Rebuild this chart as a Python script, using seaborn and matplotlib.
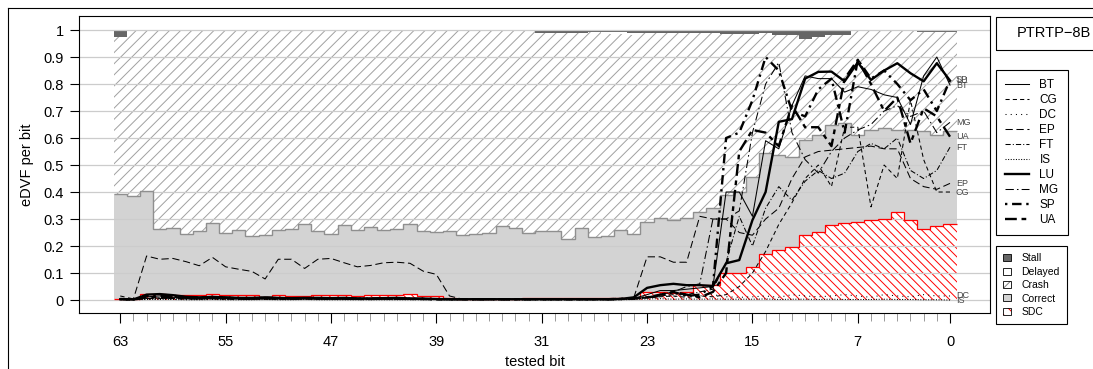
import numpy as np
import pandas as pd
import matplotlib
matplotlib.use("Agg")
import matplotlib.pyplot as plt
from matplotlib.lines import Line2D
from matplotlib.patches import Rectangle
import seaborn as sns

# Bits in der Reihenfolge des Bildes: 63 links ... 0 rechts
bits = list(range(63, -1, -1))
major_bits = [63, 55, 47, 39, 31, 23, 15, 7, 0]
y_ticks = [0, 0.1, 0.2, 0.3, 0.4, 0.5, 0.6, 0.7, 0.8, 0.9, 1]
y_tick_labels = ["0", "0.1", "0.2", "0.3", "0.4", "0.5", "0.6", "0.7", "0.8", "0.9", "1"]

# Anteile je Bit (63 -> 0)
sdc = [
    0.003, 0.003, 0.022, 0.024, 0.020, 0.018, 0.018, 0.022,
    0.018, 0.018, 0.017, 0.013, 0.018, 0.016, 0.016, 0.020,
    0.020, 0.017, 0.016, 0.019, 0.017, 0.020, 0.022, 0.016,
    0.015, 0.006, 0.005, 0.005, 0.005, 0.004, 0.005, 0.006,
    0.006, 0.006, 0.006, 0.006, 0.006, 0.008, 0.008, 0.008,
    0.030, 0.031, 0.025, 0.031, 0.056, 0.056, 0.099, 0.099,
    0.123, 0.170, 0.185, 0.198, 0.241, 0.253, 0.278, 0.284,
    0.290, 0.295, 0.300, 0.326, 0.296, 0.264, 0.276, 0.282]
correct = [
    0.390, 0.382, 0.383, 0.240, 0.246, 0.225, 0.237, 0.263,
    0.230, 0.242, 0.220, 0.228, 0.241, 0.248, 0.267, 0.235,
    0.226, 0.262, 0.243, 0.253, 0.244, 0.243, 0.258, 0.239,
    0.238, 0.251, 0.236, 0.238, 0.242, 0.271, 0.260, 0.243,
    0.251, 0.251, 0.220, 0.259, 0.229, 0.228, 0.251, 0.236,
    0.260, 0.271, 0.271, 0.271, 0.271, 0.284, 0.291, 0.301,
    0.334, 0.373, 0.352, 0.333, 0.352, 0.358, 0.370, 0.370,
    0.321, 0.335, 0.336, 0.304, 0.334, 0.363, 0.337, 0.345]
delayed = [
    0.000, 0.000, 0.000, 0.000, 0.000, 0.000, 0.000, 0.000,
    0.000, 0.000, 0.000, 0.000, 0.000, 0.000, 0.000, 0.000,
    0.000, 0.000, 0.000, 0.000, 0.000, 0.000, 0.000, 0.000,
    0.000, 0.000, 0.000, 0.000, 0.000, 0.000, 0.000, 0.000,
    0.000, 0.000, 0.000, 0.000, 0.000, 0.005, 0.005, 0.005,
    0.000, 0.000, 0.000, 0.000, 0.000, 0.000, 0.000, 0.000,
    0.000, 0.000, 0.000, 0.000, 0.000, 0.000, 0.000, 0.000,
    0.000, 0.000, 0.000, 0.000, 0.000, 0.000, 0.000, 0.000]
stall = [
    0.025, 0.000, 0.000, 0.000, 0.000, 0.000, 0.000, 0.000,
    0.000, 0.000, 0.000, 0.000, 0.000, 0.000, 0.000, 0.000,
    0.000, 0.000, 0.000, 0.000, 0.000, 0.000, 0.000, 0.000,
    0.000, 0.000, 0.000, 0.000, 0.000, 0.000, 0.000, 0.000,
    0.012, 0.012, 0.012, 0.012, 0.008, 0.008, 0.008, 0.012,
    0.012, 0.012, 0.012, 0.012, 0.012, 0.012, 0.015, 0.015,
    0.015, 0.012, 0.020, 0.020, 0.032, 0.025, 0.020, 0.020,
    0.000, 0.000, 0.005, 0.005, 0.000, 0.006, 0.006, 0.006]

# eDVF-Kurven der Benchmarks (63 -> 0)
BT = [
    0.004, 0.002, 0.012, 0.015, 0.010, 0.008, 0.006, 0.008,
    0.006, 0.005, 0.004, 0.006, 0.005, 0.004, 0.006, 0.005,
    0.004, 0.005, 0.004, 0.003, 0.004, 0.005, 0.004, 0.003,
    0.003, 0.002, 0.002, 0.002, 0.003, 0.002, 0.002, 0.003,
    0.003, 0.002, 0.002, 0.003, 0.002, 0.002, 0.003, 0.006,
    0.020, 0.035, 0.035, 0.040, 0.045, 0.050, 0.400, 0.400,
    0.310, 0.590, 0.560, 0.720, 0.830, 0.820, 0.820, 0.770,
    0.790, 0.780, 0.760, 0.750, 0.650, 0.830, 0.900, 0.796]
CG = [
    0.003, 0.002, 0.006, 0.008, 0.006, 0.005, 0.004, 0.006,
    0.005, 0.004, 0.004, 0.005, 0.004, 0.004, 0.005, 0.004,
    0.004, 0.004, 0.003, 0.003, 0.004, 0.004, 0.003, 0.003,
    0.002, 0.002, 0.002, 0.002, 0.002, 0.002, 0.002, 0.002,
    0.002, 0.002, 0.002, 0.002, 0.002, 0.002, 0.003, 0.004,
    0.008, 0.012, 0.015, 0.010, 0.015, 0.012, 0.020, 0.050,
    0.100, 0.180, 0.280, 0.360, 0.450, 0.500, 0.420, 0.640,
    0.640, 0.345, 0.500, 0.450, 0.740, 0.520, 0.400, 0.400]
DC = [
    0.002, 0.001, 0.003, 0.004, 0.003, 0.002, 0.002, 0.003,
    0.002, 0.002, 0.002, 0.003, 0.002, 0.002, 0.003, 0.002,
    0.002, 0.002, 0.002, 0.002, 0.002, 0.002, 0.002, 0.002,
    0.001, 0.001, 0.001, 0.001, 0.001, 0.001, 0.001, 0.001,
    0.001, 0.001, 0.001, 0.001, 0.001, 0.001, 0.002, 0.004,
    0.010, 0.020, 0.012, 0.018, 0.015, 0.020, 0.012, 0.010,
    0.012, 0.015, 0.010, 0.020, 0.015, 0.012, 0.015, 0.020,
    0.015, 0.010, 0.020, 0.015, 0.012, 0.020, 0.015, 0.015]
EP = [
    0.015, 0.004, 0.163, 0.151, 0.154, 0.142, 0.127, 0.158,
    0.123, 0.114, 0.106, 0.078, 0.151, 0.151, 0.117, 0.151,
    0.154, 0.138, 0.123, 0.128, 0.138, 0.140, 0.136, 0.107,
    0.095, 0.015, 0.003, 0.002, 0.002, 0.002, 0.002, 0.002,
    0.002, 0.002, 0.002, 0.002, 0.002, 0.002, 0.003, 0.010,
    0.160, 0.160, 0.140, 0.140, 0.310, 0.300, 0.300, 0.250,
    0.240, 0.300, 0.340, 0.450, 0.530, 0.550, 0.555, 0.560,
    0.565, 0.570, 0.560, 0.560, 0.450, 0.420, 0.410, 0.432]
FT = [
    0.003, 0.002, 0.005, 0.006, 0.005, 0.004, 0.004, 0.005,
    0.004, 0.004, 0.003, 0.004, 0.004, 0.003, 0.004, 0.004,
    0.003, 0.004, 0.003, 0.003, 0.003, 0.004, 0.003, 0.003,
    0.002, 0.002, 0.002, 0.002, 0.002, 0.002, 0.002, 0.002,
    0.002, 0.002, 0.002, 0.002, 0.002, 0.002, 0.003, 0.005,
    0.010, 0.015, 0.020, 0.020, 0.030, 0.040, 0.140, 0.310,
    0.200, 0.340, 0.420, 0.370, 0.440, 0.480, 0.450, 0.470,
    0.550, 0.580, 0.560, 0.600, 0.480, 0.450, 0.480, 0.566]
IS = [
    0.001, 0.001, 0.002, 0.002, 0.002, 0.001, 0.001, 0.002,
    0.001, 0.001, 0.001, 0.002, 0.001, 0.001, 0.002, 0.001,
    0.001, 0.001, 0.001, 0.001, 0.001, 0.001, 0.001, 0.001,
    0.001, 0.001, 0.001, 0.001, 0.001, 0.001, 0.001, 0.001,
    0.001, 0.001, 0.001, 0.001, 0.001, 0.001, 0.001, 0.002,
    0.004, 0.005, 0.003, 0.004, 0.003, 0.004, 0.003, 0.003,
    0.003, 0.004, 0.002, 0.003, 0.003, 0.002, 0.003, 0.002,
    0.002, 0.002, 0.003, 0.002, 0.002, 0.001, 0.001, 0.000]
LU = [
    0.003, 0.002, 0.020, 0.022, 0.018, 0.012, 0.010, 0.012,
    0.010, 0.008, 0.008, 0.010, 0.008, 0.007, 0.008, 0.008,
    0.007, 0.008, 0.006, 0.006, 0.007, 0.008, 0.006, 0.005,
    0.004, 0.003, 0.003, 0.003, 0.003, 0.003, 0.003, 0.003,
    0.003, 0.003, 0.003, 0.003, 0.003, 0.003, 0.004, 0.010,
    0.045, 0.055, 0.060, 0.055, 0.055, 0.052, 0.136, 0.148,
    0.296, 0.400, 0.660, 0.670, 0.820, 0.845, 0.846, 0.810,
    0.880, 0.815, 0.850, 0.877, 0.840, 0.810, 0.877, 0.813]
MG = [
    0.003, 0.002, 0.006, 0.007, 0.006, 0.005, 0.004, 0.005,
    0.004, 0.004, 0.004, 0.005, 0.004, 0.004, 0.005, 0.004,
    0.004, 0.004, 0.003, 0.003, 0.004, 0.004, 0.003, 0.003,
    0.002, 0.002, 0.002, 0.002, 0.002, 0.002, 0.002, 0.002,
    0.002, 0.002, 0.002, 0.002, 0.002, 0.002, 0.003, 0.005,
    0.010, 0.020, 0.030, 0.050, 0.060, 0.300, 0.300, 0.330,
    0.620, 0.800, 0.880, 0.620, 0.520, 0.470, 0.550, 0.600,
    0.630, 0.650, 0.700, 0.720, 0.680, 0.700, 0.620, 0.658]
SP = [
    0.004, 0.002, 0.015, 0.018, 0.016, 0.010, 0.008, 0.010,
    0.008, 0.007, 0.006, 0.008, 0.007, 0.006, 0.007, 0.006,
    0.006, 0.006, 0.005, 0.005, 0.006, 0.006, 0.005, 0.004,
    0.003, 0.003, 0.003, 0.003, 0.003, 0.003, 0.003, 0.003,
    0.003, 0.003, 0.003, 0.003, 0.003, 0.003, 0.004, 0.006,
    0.010, 0.015, 0.030, 0.015, 0.020, 0.050, 0.600, 0.620,
    0.740, 0.900, 0.850, 0.700, 0.680, 0.780, 0.820, 0.620,
    0.890, 0.820, 0.850, 0.800, 0.740, 0.780, 0.700, 0.815]
UA = [
    0.003, 0.002, 0.010, 0.012, 0.010, 0.008, 0.006, 0.008,
    0.006, 0.005, 0.005, 0.006, 0.005, 0.005, 0.006, 0.005,
    0.005, 0.005, 0.004, 0.004, 0.005, 0.005, 0.004, 0.004,
    0.003, 0.003, 0.003, 0.003, 0.003, 0.003, 0.003, 0.003,
    0.003, 0.003, 0.003, 0.003, 0.003, 0.003, 0.004, 0.006,
    0.010, 0.020, 0.030, 0.020, 0.010, 0.030, 0.100, 0.550,
    0.630, 0.620, 0.570, 0.720, 0.640, 0.640, 0.570, 0.820,
    0.890, 0.800, 0.700, 0.750, 0.580, 0.710, 0.680, 0.605]

benchmarks = ["BT", "CG", "DC", "EP", "FT", "IS", "LU", "MG", "SP", "UA"]
curves = [BT, CG, DC, EP, FT, IS, LU, MG, SP, UA]

# Linienstile wie im R-Original (Strich-Muster in Vielfachen der Linienbreite)
dash_map = {"BT": "", "CG": (4, 3), "DC": (1, 4), "EP": (7, 3.5), "FT": (5, 2, 1, 2),
            "IS": (1, 1.5), "LU": "", "MG": (8, 3, 1.5, 3), "SP": (1, 2, 4, 2), "UA": (5, 2, 2, 2)}
size_map = {"BT": 0.75, "CG": 0.75, "DC": 0.75, "EP": 0.75, "FT": 0.75,
            "IS": 0.75, "LU": 1.7, "MG": 0.75, "SP": 1.7, "UA": 1.7}

plt.rcParams['font.family'] = ['Liberation Sans', 'DejaVu Sans']
plt.rcParams['hatch.linewidth'] = 0.7

# Stapel aufbauen (in aufsteigender Bit-Reihenfolge fuer stairs)
sdc_a = np.array(sdc[::-1])
cor_a = np.array(correct[::-1])
del_a = np.array(delayed[::-1])
sta_a = np.array(stall[::-1])
crash_a = 1 - (sdc_a + cor_a + del_a + sta_a)  # Rest bis 1 ist Crash
lev1 = sdc_a
lev2 = lev1 + cor_a
lev3 = lev2 + crash_a
lev4 = lev3 + del_a
lev5 = lev4 + sta_a
edges = np.arange(-0.5, 64.5, 1.0)

fig = plt.figure(figsize=(10.93, 3.69), dpi=100)
ax = fig.add_axes([0.0723, 0.1518, 0.8335, 0.8049])

ax.stairs(lev1, edges, baseline=0, fill=True, facecolor='white', edgecolor='red',
          linewidth=0, hatch='\\\\\\\\', zorder=1)
ax.stairs(lev2, edges, baseline=lev1, fill=True, facecolor='#d3d3d3', linewidth=0, zorder=1)
ax.stairs(lev3, edges, baseline=lev2, fill=True, facecolor='white', edgecolor='#a0a0a0',
          linewidth=0, hatch='///', zorder=1)
ax.stairs(lev4, edges, baseline=lev3, fill=True, facecolor='white', linewidth=0, zorder=1)
ax.stairs(lev5, edges, baseline=lev4, fill=True, facecolor='#666666', linewidth=0, zorder=1)
# Umrisse oben an Correct und SDC
ax.stairs(lev2, edges, baseline=None, color='#8f8f8f', linewidth=1.0, zorder=1.7)
ax.stairs(lev1, edges, baseline=None, color='red', linewidth=0.9, zorder=1.7)

# Kurven mit seaborn
df_lines = pd.DataFrame({
    'bit': np.tile(bits, len(benchmarks)),
    'eDVF': np.concatenate(curves),
    'bench': np.repeat(benchmarks, len(bits)),
})
sns.lineplot(data=df_lines, x='bit', y='eDVF', hue='bench', style='bench', size='bench',
             palette={b: 'black' for b in benchmarks}, dashes=dash_map, sizes=size_map,
             estimator=None, legend=False, ax=ax, zorder=3)

# Namen am rechten Kurvenende
for name, vals in zip(benchmarks, curves):
    ax.text(-0.45, vals[-1], name, fontsize=6.5, color='#444444', ha='left', va='center', zorder=4)

ax.set_xlim(66.13, -3.04)
ax.set_ylim(-0.048, 1.052)
ax.set_axisbelow('line')
ax.set_yticks(y_ticks)
ax.set_yticklabels(y_tick_labels)
ax.grid(axis='y', color='#cccccc', linewidth=0.9)
ax.grid(axis='x', visible=False)
ax.set_xticks(major_bits)
ax.set_xticklabels([str(b) for b in major_bits])
ax.set_xticks([b for b in bits if b not in major_bits], minor=True)
ax.tick_params(axis='x', which='major', length=7.5, width=0.8, pad=8, labelsize=10.5, color='black')
ax.tick_params(axis='x', which='minor', length=5.5, width=0.7, color='#999999')
ax.tick_params(axis='y', length=6.5, width=0.8, pad=4.5, labelsize=10.5)
for sp in ax.spines.values():
    sp.set_color('black')
    sp.set_linewidth(0.8)

ax.set_xlabel('tested bit', fontsize=10.5)
ax.set_ylabel('eDVF per bit', fontsize=10.5)
ax.xaxis.set_label_coords(0.5, -0.143)
ax.yaxis.set_label_coords(-0.049, 0.5)

# Legende der Benchmarks
line_handles = []
for name in benchmarks:
    if dash_map[name] == "":
        h = Line2D([], [], color='black', lw=size_map[name], linestyle='-')
    else:
        h = Line2D([], [], color='black', lw=size_map[name], dashes=dash_map[name])
    line_handles.append(h)
leg1 = fig.legend(line_handles, benchmarks, loc='upper left',
                  bbox_to_anchor=(995.7 / 1093, 1 - 70 / 369), bbox_transform=fig.transFigure,
                  fontsize=8.5, handlelength=2.0, handletextpad=0.9, labelspacing=0.25,
                  borderpad=0.8, borderaxespad=0, frameon=True, fancybox=False,
                  edgecolor='black', framealpha=1)
leg1.get_frame().set_linewidth(0.8)

# Legende der Ergebnisklassen
cat_labels = ["Stall", "Delayed", "Crash", "Correct", "SDC"]
box = dict(fill=False, edgecolor='black', linewidth=0.6)
cat_handles = [
    Rectangle((0, 0), 1, 1, facecolor='#666666', edgecolor='black', linewidth=0.6),
    Rectangle((0, 0), 1, 1, facecolor='white', edgecolor='black', linewidth=0.6),
    (Rectangle((0, 0), 1, 1, facecolor='white', edgecolor='#808080', hatch='////', linewidth=0),
     Rectangle((0, 0), 1, 1, **box)),
    Rectangle((0, 0), 1, 1, facecolor='#d3d3d3', edgecolor='black', linewidth=0.6),
    (Rectangle((0, 0), 1, 1, facecolor='white', edgecolor='red', hatch='\\\\\\', linewidth=0),
     Rectangle((0, 0), 1, 1, **box)),
]
leg2 = fig.legend(cat_handles, cat_labels, loc='upper left',
                  bbox_to_anchor=(995.7 / 1093, 1 - 246 / 369), bbox_transform=fig.transFigure,
                  fontsize=7.5, handlelength=0.75, handleheight=0.65, handletextpad=1.0,
                  labelspacing=0.33, borderpad=0.7, borderaxespad=0, frameon=True,
                  fancybox=False, edgecolor='black', framealpha=1)
leg2.get_frame().set_linewidth(0.8)

# Titel-Kasten rechts oben
fig.add_artist(Rectangle((995.7 / 1093, 1 - 50 / 369), 0.2, 33.3 / 369, transform=fig.transFigure,
                         fill=False, edgecolor='black', linewidth=0.8))
fig.text(1054 / 1093, 1 - 33 / 369, 'PTRTP\u22128B', ha='center', va='center', fontsize=10.5)

# aeusserer Rahmen (oben und links)
fig.add_artist(Line2D([8 / 1093, 1.0], [1 - 8 / 369, 1 - 8 / 369], transform=fig.transFigure,
                      color='black', linewidth=0.8))
fig.add_artist(Line2D([8 / 1093, 8 / 1093], [0, 1 - 8 / 369], transform=fig.transFigure,
                      color='black', linewidth=0.8))

fig.savefig('out.png', dpi=100)
